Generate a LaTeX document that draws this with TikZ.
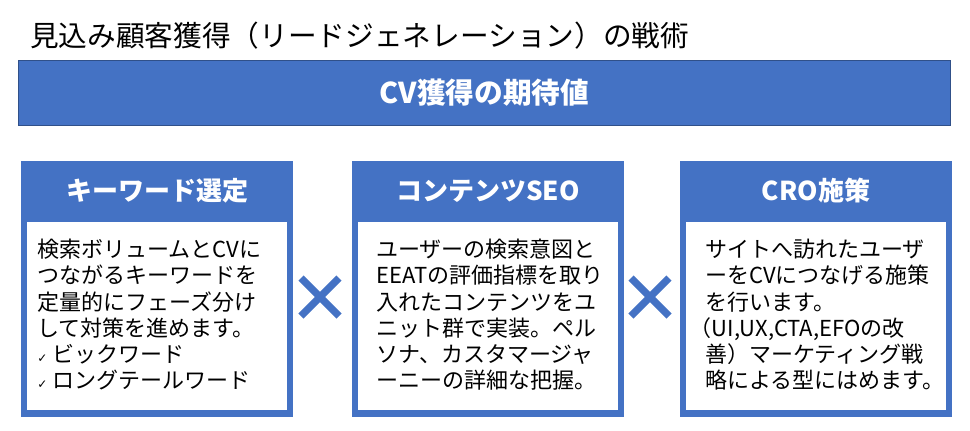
\documentclass[tikz,border=0pt]{standalone}
\usepackage{fontspec}
\setmainfont{Noto Sans CJK JP}
\newfontfamily\symf{DejaVu Sans}
\begin{document}
\begin{tikzpicture}[x=0.75pt,y=-0.75pt,
  blu/.style={fill=blue1,draw=none},
  body/.style={anchor=north west,align=left,font=\fontsize{16.5pt}{19.6pt}\selectfont,inner sep=0pt},
  head/.style={text=white,font=\bfseries\fontsize{19.5pt}{22pt}\selectfont},
  crs/.style={draw=blue1,line width=5.5pt}]
\definecolor{blue1}{HTML}{4472C4}
\useasboundingbox (0,0) rectangle (970,430);
\node[anchor=west,font=\fontsize{21.5pt}{24pt}\selectfont,inner sep=0pt] (title) at (30,36) {見込み顧客獲得（リードジェネレーション）の戦術};
\node[blu,draw=blue1!70!black,line width=0.6pt,minimum width=932*0.75pt,minimum height=65*0.75pt,anchor=north west] (ban) at (18,60) {};
\node[head,font=\bfseries\fontsize{21.5pt}{24pt}\selectfont] (bant) at (ban.center) {CV獲得の期待値};
% boxes
\foreach \x/\n in {21/a,352/b,680/c}{
  \fill[blue1] (\x,161) rectangle ++(272,256);
  \fill[white] (\x+6,222) rectangle ++(260,188);
}
\node[head] (ha) at (157,191) {キーワード選定};
\node[head] (hb) at (488,191) {コンテンツSEO};
\node[head] (hc) at (816,191) {CRO施策};
\node[body] (ta) at (37,239) {検索ボリュームとCVに\\つながるキーワードを\\定量的にフェーズ分け\\して対策を進めます。\\{\symf\small ✓} ビックワード\\{\symf\small ✓} ロングテールワード};
\node[body] (tb) at (376,239) {ユーザーの検索意図と\\EEATの評価指標を取り\\入れたコンテンツをユ\\ニット群で実装。ペル\\ソナ、カスタマージャ\\ーニーの詳細な把握。};
\node[body] (tc) at (705,239) {サイトへ訪れたユーザ\\ーをCVにつなげる施策\\を行います。\\\kern-0.7em（UI,UX,CTA,EFOの改\\善）マーケティング戦\\略による型にはめます。};
\foreach \cx in {320,650}{
  \draw[crs] (\cx-19,278) -- (\cx+19,316);
  \draw[crs] (\cx+19,278) -- (\cx-19,316);
}
\end{tikzpicture}
\end{document}
